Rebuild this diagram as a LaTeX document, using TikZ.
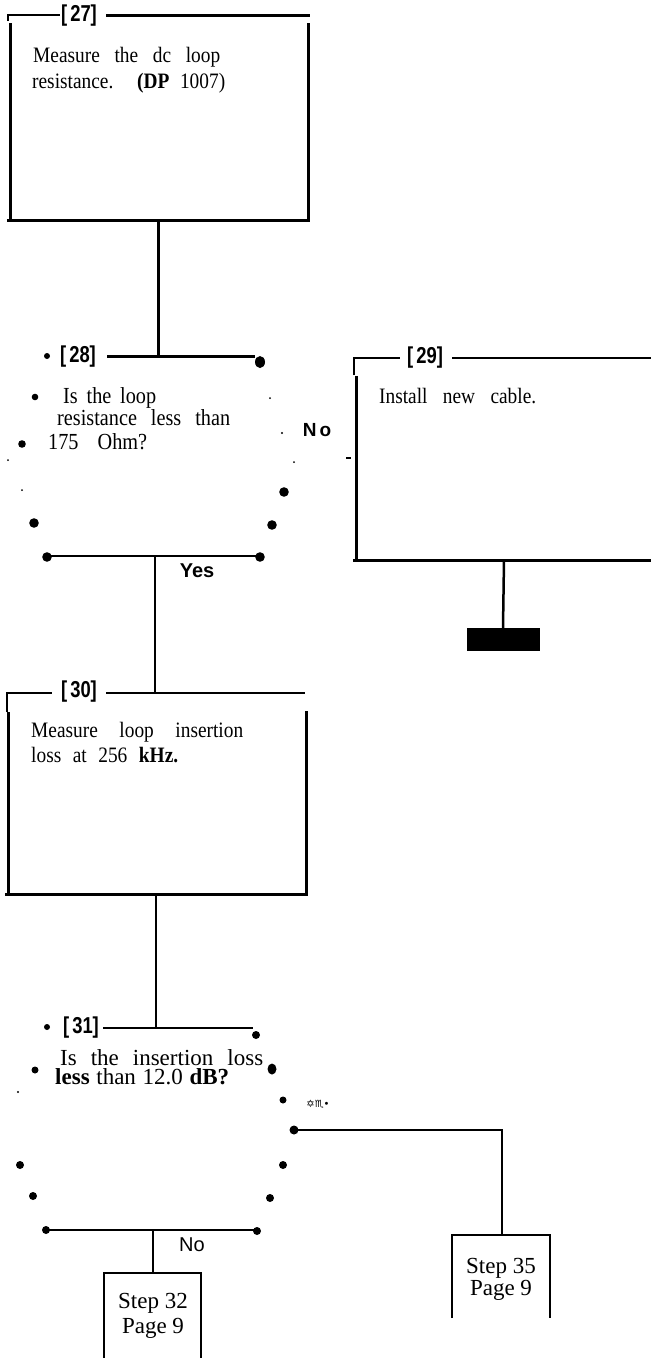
\documentclass[tikz,border=0pt]{standalone}
\usepackage{fontspec}
\usepackage{graphicx}
\setmainfont{Liberation Serif}
\newfontfamily\condserif{Liberation Serif}[FakeStretch=0.88]
\newfontfamily\sansfam{Liberation Sans}
\newfontfamily\symfam{DejaVu Sans}
\newcommand{\steplab}[1]{\scalebox{0.8}[1]{[\,#1]}}
\begin{document}
\begin{tikzpicture}[x=1pt,y=-1pt,
  frame/.style={line width=3pt},
  conn/.style={line width=2.5pt},
  thinconn/.style={line width=1.6pt},
  hair/.style={line width=1.4pt},
  txt/.style={anchor=base west,inner sep=0pt,font=\condserif\fontsize{22}{24}\selectfont},
  dtxt/.style={anchor=base west,inner sep=0pt,font=\condserif\fontsize{23}{24}\selectfont},
  qtxt/.style={anchor=base west,inner sep=0pt,font=\fontsize{23}{18}\selectfont},
  stxt/.style={anchor=base,inner sep=0pt,font=\fontsize{23}{24}\selectfont},
  lbl/.style={inner sep=0pt,font=\sansfam\bfseries\fontsize{23}{23}\selectfont},
  ans/.style={inner sep=0pt,font=\sansfam\bfseries\fontsize{19}{19}\selectfont},
  ansr/.style={inner sep=0pt,font=\sansfam\fontsize{20}{20}\selectfont}]
\useasboundingbox (0,0) rectangle (651,1358);

% ---------- Box 27 ----------
\draw[hair] (8,21) -- (8,15) -- (60,15);
\node[lbl] (l27) at (79,16) {\steplab{27}};
\draw[frame] (106,15) -- (310,15);
\draw[frame] (10,23) -- (10,220);
\draw[frame] (308,23) -- (308,222);
\draw[frame] (7,220) -- (310,220);
\node[txt] (t27a) at (33,62) {\makebox[187pt][s]{Measure the dc loop}};
\node[txt] (t27b) at (32,88) {\makebox[193pt][s]{resistance. \textbf{(DP} 1007)}};
\coordinate (b27) at (158,220);
\coordinate (top28) at (158,356);
\draw[frame] (b27) -- (top28);

% ---------- Decision 28 ----------
\fill (47,356) circle (3pt);
\node[lbl] (l28) at (78,357) {\steplab{28}};
\draw[frame] (107,356) -- (255,356);
\fill (260,362) ellipse (5pt and 6pt);
\node[dtxt] (t28a) at (63,403) {\makebox[93pt][s]{Is the loop}};
\node[dtxt] (t28b) at (57,425) {\makebox[173pt][s]{resistance less than}};
\node[dtxt] (t28c) at (48,449) {\makebox[99pt][s]{175 Ohm?}};
% left dots
\fill (35,397) circle (3.3pt);
\fill (22,444) circle (3.8pt);
\fill (8,460) circle (1pt);
\fill (22,490) circle (1pt);
\fill (34,523) circle (4.8pt);
\fill (47,557) circle (4.8pt);
% right dots
\fill (270,398) circle (1pt);
\fill (282,433) circle (1.2pt);
\fill (294,462) circle (1pt);
\fill (284,492) circle (4.8pt);
\fill (272,525) circle (4.8pt);
\fill (260,557) circle (4.8pt);
\node[ans] (no28) at (317,430) {N\,o};
\draw[hair] (346,458) -- (351,458);
\draw[conn] (47,556) -- (260,556);
\node[ans,font=\sansfam\bfseries\fontsize{20}{20}\selectfont] (yes28) at (197,571) {Yes};
\coordinate (bot28) at (155,556);
\coordinate (top30) at (155,693);
\draw[conn] (bot28) -- (top30);

% ---------- Box 29 ----------
\draw[hair] (354,375) -- (354,358) -- (400,358);
\node[lbl] (l29) at (425,358) {\steplab{29}};
\draw[conn] (452,358) -- (651,358);
\draw[frame] (356,376) -- (356,560);
\draw[frame] (353,560) -- (651,560);
\node[txt] (t29) at (379,403) {\makebox[157pt][s]{Install new cable.}};
\coordinate (b29) at (504,560);
\node[fill=black,minimum width=73pt,minimum height=23pt,inner sep=0pt,anchor=north] (end29) at (503,628) {};
\draw[conn] (b29) -- (end29.north);

% ---------- Box 30 ----------
\draw[hair] (7,712) -- (7,693) -- (52,693);
\node[lbl] (l30) at (79,692) {\steplab{30}};
\draw[conn] (106,693) -- (305,693);
\draw[frame] (8,712) -- (8,893);
\draw[frame] (306,711) -- (306,895);
\draw[frame] (5,894) -- (308,894);
\node[txt] (t30a) at (31,737) {\makebox[212pt][s]{Measure loop insertion}};
\node[txt] (t30b) at (31,762) {\makebox[147pt][s]{loss at 256 \textbf{kHz.}}};
\coordinate (b30) at (156,894);
\coordinate (top31) at (156,1028);
\draw[conn] (b30) -- (top31);

% ---------- Decision 31 ----------
\fill (47,1027) circle (3pt);
\node[lbl] (l31) at (81,1028) {\steplab{31}};
\draw[thinconn] (103,1028) -- (253,1028);
\fill (256,1035) circle (4pt);
\node[qtxt] (t31) at (55,1076) {\begin{tabular}{@{}l@{}}\hspace{5pt}\makebox[203pt][s]{Is the insertion loss}\\[-3pt]\makebox[174pt][s]{\textbf{less} than 12.0 \textbf{dB?}}\end{tabular}};
\fill (35,1070) circle (3.5pt);
\fill (272,1069) ellipse (4.5pt and 5.5pt);
\fill (18,1092) circle (1.2pt);
\fill (283,1100) circle (3.5pt);
\node[inner sep=0pt,font=\symfam\fontsize{10}{10}\selectfont] (odd31) at (318,1104) {✡♏•};
\fill (20,1165) circle (4pt);
\fill (33,1196) circle (4pt);
\fill (46,1230) circle (4pt);
\fill (283,1165) circle (4pt);
\fill (270,1198) circle (4pt);
\fill (257,1231) circle (4pt);
\draw[thinconn] (46,1230) -- (257,1230);
\node[ansr] (no31) at (192,1245) {No};
\coordinate (r31) at (294,1130);
\fill (r31) circle (4.5pt);

% ---------- Step 35 ----------
\coordinate (s35) at (502,1235);
\draw[thinconn] (r31) -- (502,1130) -- (s35);
\draw[thinconn] (452,1318) -- (452,1235) -- (550,1235) -- (550,1318);
\node[stxt] (t35a) at (501,1273) {Step 35};
\node[stxt] (t35b) at (501,1295) {Page 9};

% ---------- Step 32 ----------
\coordinate (bot31) at (153,1230);
\coordinate (s32) at (153,1273);
\draw[thinconn] (bot31) -- (s32);
\draw[thinconn] (104,1358) -- (104,1273) -- (201,1273) -- (201,1358);
\node[stxt] (t32a) at (153,1308) {Step 32};
\node[stxt] (t32b) at (153,1333) {Page 9};
\end{tikzpicture}
\end{document}
